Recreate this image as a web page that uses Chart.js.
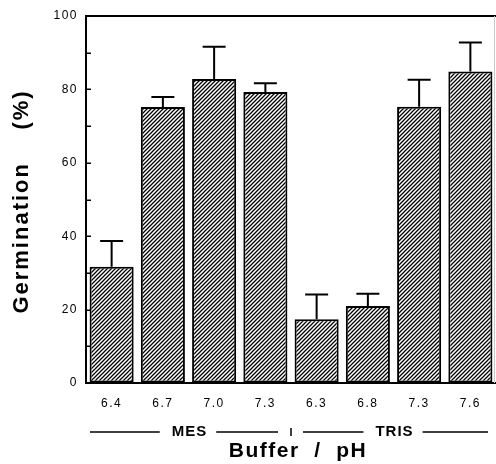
<!DOCTYPE html>
<html>
<head>
<meta charset="utf-8">
<script src="https://cdn.jsdelivr.net/npm/chart.js@4/dist/chart.umd.min.js"></script>
<style>
  body { margin: 0; background: #fff; }
  canvas { display: block; }
</style>
</head>
<body>
<canvas id="germ" width="496" height="464"></canvas>
<script>
// pH values under each bar
var labels = ['6.4', '6.7', '7.0', '7.3', '6.3', '6.8', '7.3', '7.6'];
// germination (%) and upper error (%)
var germination = [31.7, 75.2, 82.8, 79.3, 17.4, 21.0, 75.3, 84.9];
var errors = [7.0, 2.7, 8.8, 2.4, 6.7, 3.3, 7.3, 7.9];
// buffer groups, bars per group
var buffers = ['MES', 'TRIS'];
var bufferSizes = [4, 4];

var FONT = '"Liberation Sans", Arial, Helvetica, sans-serif';

// diagonal hatch fill
function hatch() {
  var c = document.createElement('canvas');
  c.width = 4; c.height = 4;
  var g = c.getContext('2d');
  g.fillStyle = '#fff';
  g.fillRect(0, 0, 4, 4);
  g.strokeStyle = '#000';
  g.lineWidth = 1.25;
  g.beginPath();
  g.moveTo(-1, 5); g.lineTo(5, -1);
  g.moveTo(-1, 1); g.lineTo(1, -1);
  g.moveTo(3, 5); g.lineTo(5, 3);
  g.stroke();
  return g.createPattern(c, 'repeat');
}

var spacing = {
  id: 'spacing',
  beforeDraw: function(chart) {
    chart.ctx.letterSpacing = '1.5px';
  }
};

var extras = {
  id: 'extras',
  afterDatasetsDraw: function(chart) {
    var ctx = chart.ctx;
    var ca = chart.chartArea;
    var y = chart.scales.y;
    var meta = chart.getDatasetMeta(0);
    ctx.save();
    ctx.strokeStyle = '#000';
    // error bars (upper only)
    ctx.lineWidth = 2;
    meta.data.forEach(function(bar, i) {
      var top = y.getPixelForValue(germination[i] + errors[i]);
      ctx.beginPath();
      ctx.moveTo(bar.x, bar.y);
      ctx.lineTo(bar.x, top);
      ctx.moveTo(bar.x - 11.5, top);
      ctx.lineTo(bar.x + 11.5, top);
      ctx.stroke();
    });
    // frame top + faint right edge
    ctx.beginPath();
    ctx.moveTo(ca.left, ca.top);
    ctx.lineTo(ca.right, ca.top);
    ctx.stroke();
    ctx.strokeStyle = '#c8c8c8';
    ctx.lineWidth = 1;
    ctx.beginPath();
    ctx.moveTo(ca.right - 1.5, ca.top);
    ctx.lineTo(ca.right - 1.5, ca.bottom);
    ctx.stroke();
    // inward y ticks
    ctx.strokeStyle = '#000';
    ctx.lineWidth = 1.5;
    y.ticks.forEach(function(t) {
      var py = Math.round(y.getPixelForValue(t.value)) + 0.25;
      ctx.beginPath();
      ctx.moveTo(ca.left, py);
      ctx.lineTo(ca.left + 5, py);
      ctx.stroke();
    });
    ctx.restore();
  },
  afterDraw: function(chart) {
    var ctx = chart.ctx;
    var ca = chart.chartArea;
    var x = chart.scales.x;
    ctx.save();
    ctx.fillStyle = '#000';
    ctx.strokeStyle = '#000';
    ctx.textAlign = 'center';
    ctx.textBaseline = 'middle';

    // buffer group lines
    var gy = 432;
    ctx.font = 'bold 15px ' + FONT;
    ctx.letterSpacing = '1px';
    ctx.lineWidth = 1.5;
    var start = 0;
    var bounds = [];
    buffers.forEach(function(name, g) {
      var first = start, last = start + bufferSizes[g] - 1;
      start += bufferSizes[g];
      var half = (x.getPixelForValue(1) - x.getPixelForValue(0)) / 2;
      var left = x.getPixelForValue(first) - half;
      var right = x.getPixelForValue(last) + half;
      var cx = (x.getPixelForValue(first) + x.getPixelForValue(last)) / 2;
      var w = ctx.measureText(name).width;
      var l0 = g === 0 ? left + 4 : left + 12;
      var r1 = g === buffers.length - 1 ? right - 8 : right - 13;
      ctx.beginPath();
      ctx.moveTo(l0, gy); ctx.lineTo(cx - w / 2 - 11, gy);
      ctx.moveTo(cx + w / 2 + 10, gy); ctx.lineTo(r1, gy);
      ctx.stroke();
      ctx.fillText(name, cx + 1, gy);
      if (g > 0) bounds.push(left);
    });
    bounds.forEach(function(b) {
      ctx.beginPath();
      ctx.moveTo(b, gy - 4);
      ctx.lineTo(b, gy + 4);
      ctx.stroke();
    });

    // x title
    ctx.font = 'bold 21px ' + FONT;
    ctx.letterSpacing = '1.5px';
    ctx.fillText('Buffer  /  pH', (ca.left + ca.right) / 2 + 7, 451);

    // y title
    ctx.translate(22, (ca.top + ca.bottom) / 2 + 2);
    ctx.rotate(-Math.PI / 2);
    ctx.font = 'bold 22px ' + FONT;
    ctx.letterSpacing = '2px';
    ctx.fillText('Germination    (%)', 0, 0);
    ctx.restore();
  }
};

var ctx = document.getElementById('germ');
var data = {
  labels: labels,
  datasets: [{
    data: germination,
    backgroundColor: hatch(),
    borderColor: '#000',
    borderWidth: 2,
    borderSkipped: false,
    categoryPercentage: 0.86,
    barPercentage: 1
  }]
};

var options = {
  responsive: false,
  animation: false,
  layout: { padding: { top: 16, right: 0, left: 0, bottom: 0 } },
  plugins: {
    legend: { display: false },
    tooltip: { enabled: false }
  },
  scales: {
    x: {
      grid: { display: false, drawTicks: false },
      border: { display: true, color: '#000', width: 2 },
      ticks: { color: '#000', font: { family: FONT, size: 12 }, padding: 13, maxRotation: 0 },
      afterFit: function(s) { s.height = 81; }
    },
    y: {
      min: 0,
      max: 100,
      grid: { drawOnChartArea: false, drawTicks: false },
      border: { display: true, color: '#000', width: 2 },
      ticks: {
        stepSize: 10,
        color: '#000',
        font: { family: FONT, size: 12 },
        padding: 8,
        callback: function(v) { return v % 20 === 0 ? v : ''; }
      },
      afterFit: function(s) { s.width = 86; }
    }
  }
};

var germChart = new Chart(ctx, {
  type: 'bar',
  data: data,
  options: options,
  plugins: [spacing, extras]
});
</script>
</body>
</html>
